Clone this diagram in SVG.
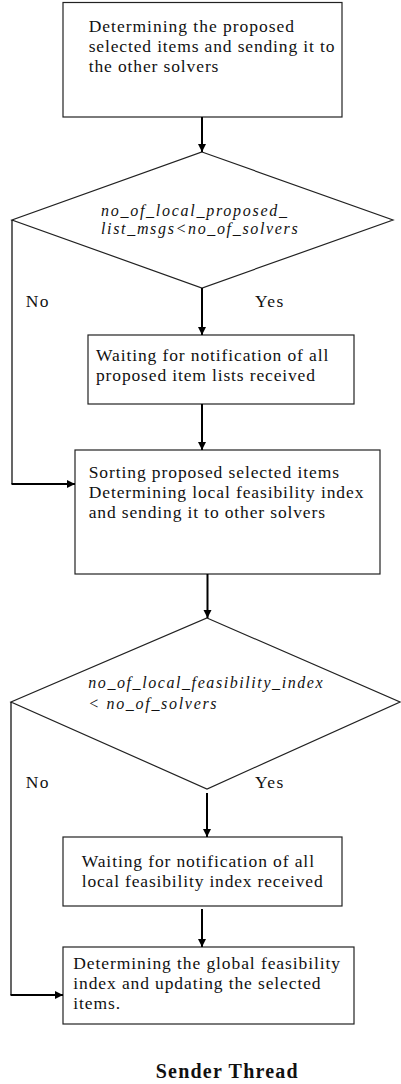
<svg xmlns="http://www.w3.org/2000/svg" width="401" height="1084" viewBox="0 0 401 1084">
<style>
.box{fill:#fff;stroke:#222;stroke-width:1.2}
.t{font-family:"Liberation Serif","Times New Roman",serif;font-size:17.5px;fill:#111}
.i{font-style:italic;font-size:16px}
.b{font-weight:bold;font-size:20px}
.c{fill:none;stroke:#000;stroke-width:2}
.thin{fill:none;stroke:#000;stroke-width:1.2}
</style>
<defs>
<marker id="ah" markerUnits="userSpaceOnUse" markerWidth="9" markerHeight="9" refX="8" refY="4" orient="auto">
<path d="M0,0 L8,4 L0,8 z" fill="#000"/>
</marker>
</defs>
<rect width="401" height="1084" fill="#fff"/>
<g id="n1">
<rect class="box" x="63" y="2.5" width="279" height="114.5"/>
<text class="t" x="88.7" y="31.7" textLength="205.3" lengthAdjust="spacing">Determining the proposed</text>
<text class="t" x="88.7" y="51.7" textLength="245.7" lengthAdjust="spacing">selected items and sending it to</text>
<text class="t" x="88.7" y="71.7" textLength="129.7" lengthAdjust="spacing">the other solvers</text>
</g>
<g id="d1">
<polygon class="box" points="202,152 393,220 202,288 12,220"/>
<text class="t i" x="101" y="215.5" textLength="186" lengthAdjust="spacing">no_of_local_proposed_</text>
<text class="t i" x="101" y="234" textLength="196.7" lengthAdjust="spacing">list_msgs&lt;no_of_solvers</text>
</g>
<g id="n2">
<rect class="box" x="88" y="335" width="266" height="69"/>
<text class="t" x="96" y="361" textLength="232.3" lengthAdjust="spacing">Waiting for notification of all</text>
<text class="t" x="96" y="381" textLength="219" lengthAdjust="spacing">proposed item lists received</text>
</g>
<g id="n3">
<rect class="box" x="75" y="450" width="305" height="124"/>
<text class="t" x="88.7" y="478" textLength="250.3" lengthAdjust="spacing">Sorting proposed selected items</text>
<text class="t" x="88.7" y="498" textLength="274.7" lengthAdjust="spacing">Determining local feasibility index</text>
<text class="t" x="88.7" y="518" textLength="236.3" lengthAdjust="spacing">and sending it to other solvers</text>
</g>
<g id="d2">
<polygon class="box" points="207,618 400,702 207,789 11,702"/>
<text class="t i" x="88.3" y="688" textLength="234.3" lengthAdjust="spacing">no_of_local_feasibility_index</text>
<text class="t i" x="88.3" y="709" textLength="128.3" lengthAdjust="spacing">&lt; no_of_solvers</text>
</g>
<g id="n4">
<rect class="box" x="63" y="837" width="279" height="69"/>
<text class="t" x="81.7" y="867" textLength="232.3" lengthAdjust="spacing">Waiting for notification of all</text>
<text class="t" x="81.7" y="887" textLength="241" lengthAdjust="spacing">local feasibility index received</text>
</g>
<g id="n5">
<rect class="box" x="63" y="947" width="291" height="77"/>
<text class="t" x="73.3" y="969.3" textLength="266.7" lengthAdjust="spacing">Determining the global feasibility</text>
<text class="t" x="73.3" y="989.3" textLength="247.3" lengthAdjust="spacing">index and updating the selected</text>
<text class="t" x="73.3" y="1009.3" textLength="46.7" lengthAdjust="spacing">items.</text>
</g>
<g id="connectors">
<path class="c" d="M202,117 V152" marker-end="url(#ah)"/>
<path class="c" d="M202,288 V335" marker-end="url(#ah)"/>
<path class="thin" d="M12,220 V484"/>
<path class="c" d="M11.5,484 H75" marker-end="url(#ah)"/>
<path class="c" d="M202,404 V450" marker-end="url(#ah)"/>
<path class="c" d="M207.5,574 V618" marker-end="url(#ah)"/>
<path class="c" d="M207,793 V837" marker-end="url(#ah)"/>
<path class="thin" d="M11,702 V995"/>
<path class="c" d="M10.5,995 H63" marker-end="url(#ah)"/>
<path class="c" d="M202,909 V947" marker-end="url(#ah)"/>
</g>
<g id="labels">
<text class="t" x="25.7" y="307" textLength="22.7" lengthAdjust="spacing">No</text>
<text class="t" x="255" y="307" textLength="28.3" lengthAdjust="spacing">Yes</text>
<text class="t" x="25.7" y="788" textLength="22.7" lengthAdjust="spacing">No</text>
<text class="t" x="255" y="788" textLength="28.3" lengthAdjust="spacing">Yes</text>
<text class="t b" x="155.7" y="1078" textLength="142" lengthAdjust="spacing">Sender Thread</text>
</g>
</svg>
